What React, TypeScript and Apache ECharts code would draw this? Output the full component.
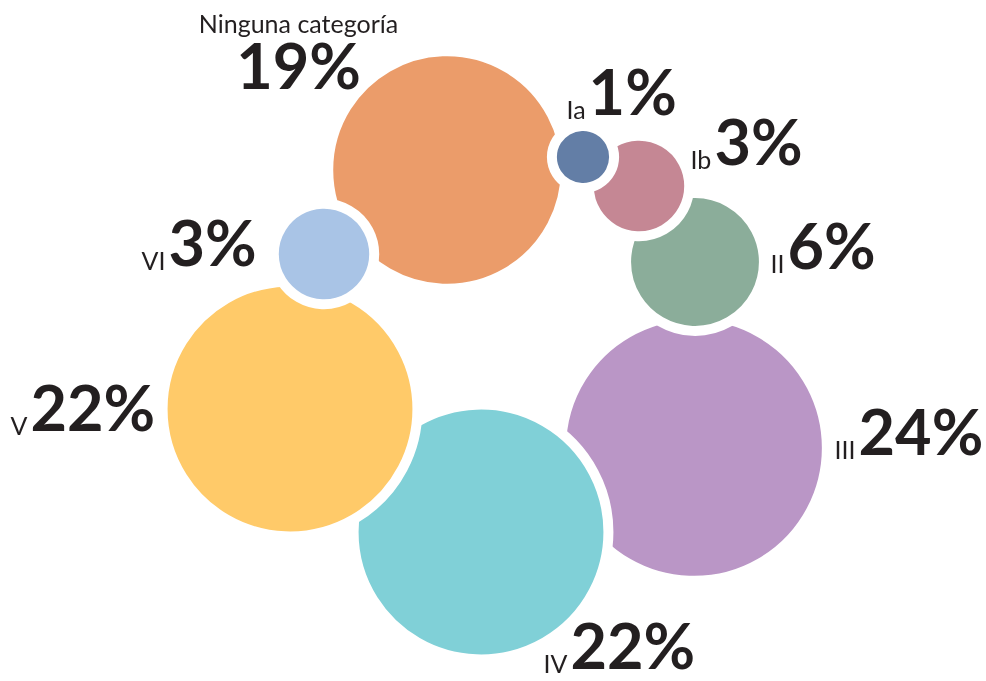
import React, { useEffect, useRef } from 'react';
import * as echarts from 'echarts';

const categories = ['Ninguna categoría', 'Ia', 'Ib', 'II', 'III', 'IV', 'V', 'VI'];
const percents = [19, 1, 3, 6, 24, 22, 22, 3];
const centerX = [447, 583, 639, 695, 694, 481, 290, 324];
const centerY = [170, 157, 186, 262, 448, 532, 409, 254];
const labelX = [299, 567, 691, 771, 835, 544, 11, 142];
const labelY = [45, 100, 150, 254, 440, 654, 416, 251];
const colors = ['#EB9C6A', '#637EA6', '#C58794', '#8BAD9A', '#BA96C6', '#80D0D7', '#FFCA69', '#A9C4E6'];
const drawOrder = [0, 4, 5, 6, 3, 2, 1, 7];

const K = 26.1;
const BORDER = 10;
const FONT = 'Lato';
const INK = '#231F20';

export default function App() {
  const ref = useRef<HTMLDivElement>(null);
  useEffect(() => {
    const chart = echarts.init(ref.current!, null, { renderer: 'svg' });
    const bubbles = drawOrder.map((i) => ({
      value: [centerX[i], centerY[i], percents[i]],
      name: categories[i],
      itemStyle: { color: colors[i] },
    }));
    const labels = categories.map((c, i) => ({
      value: [labelX[i], labelY[i], percents[i]],
      name: c,
      label:
        i === 0
          ? { align: 'center', formatter: `{t|${c}}\n{p|${percents[i]}%}` }
          : { align: 'left', formatter: `{n|${c}} {p|${percents[i]}%}` },
    }));
    chart.setOption({
      animation: false,
      grid: { left: 0, right: 0, top: 0, bottom: 0 },
      xAxis: { type: 'value', min: 0, max: 986, show: false },
      yAxis: { type: 'value', min: 0, max: 681, inverse: true, show: false },
      series: [
        {
          type: 'scatter',
          data: bubbles,
          symbol: 'circle',
          symbolSize: (v: number[]) => 2 * K * Math.sqrt(v[2]) + BORDER,
          itemStyle: { borderColor: '#ffffff', borderWidth: BORDER, opacity: 1 },
          emphasis: { disabled: true },
          silent: true,
        },
        {
          type: 'scatter',
          data: labels,
          symbol: 'circle',
          symbolSize: 1,
          itemStyle: { color: 'rgba(0,0,0,0)', opacity: 1 },
          emphasis: { disabled: true },
          silent: true,
          label: {
            show: true,
            position: [0, 0],
            verticalAlign: 'middle',
            color: INK,
            opacity: 1,
            fontFamily: FONT,
            rich: {
              t: { fontFamily: FONT, fontSize: 25, color: INK, lineHeight: 58, verticalAlign: 'middle', align: 'center' },
              n: { fontFamily: FONT, fontSize: 25, color: INK, verticalAlign: 'bottom', lineHeight: 44 },
              p: { fontFamily: FONT, fontSize: 63, fontWeight: 'bold', color: INK, verticalAlign: 'bottom', lineHeight: 44 },
            },
          },
        },
      ],
    });
    return () => chart.dispose();
  }, []);
  return <div ref={ref} style={{ position: 'fixed', left: 0, top: 0, width: 986, height: 681 }} />;
}
